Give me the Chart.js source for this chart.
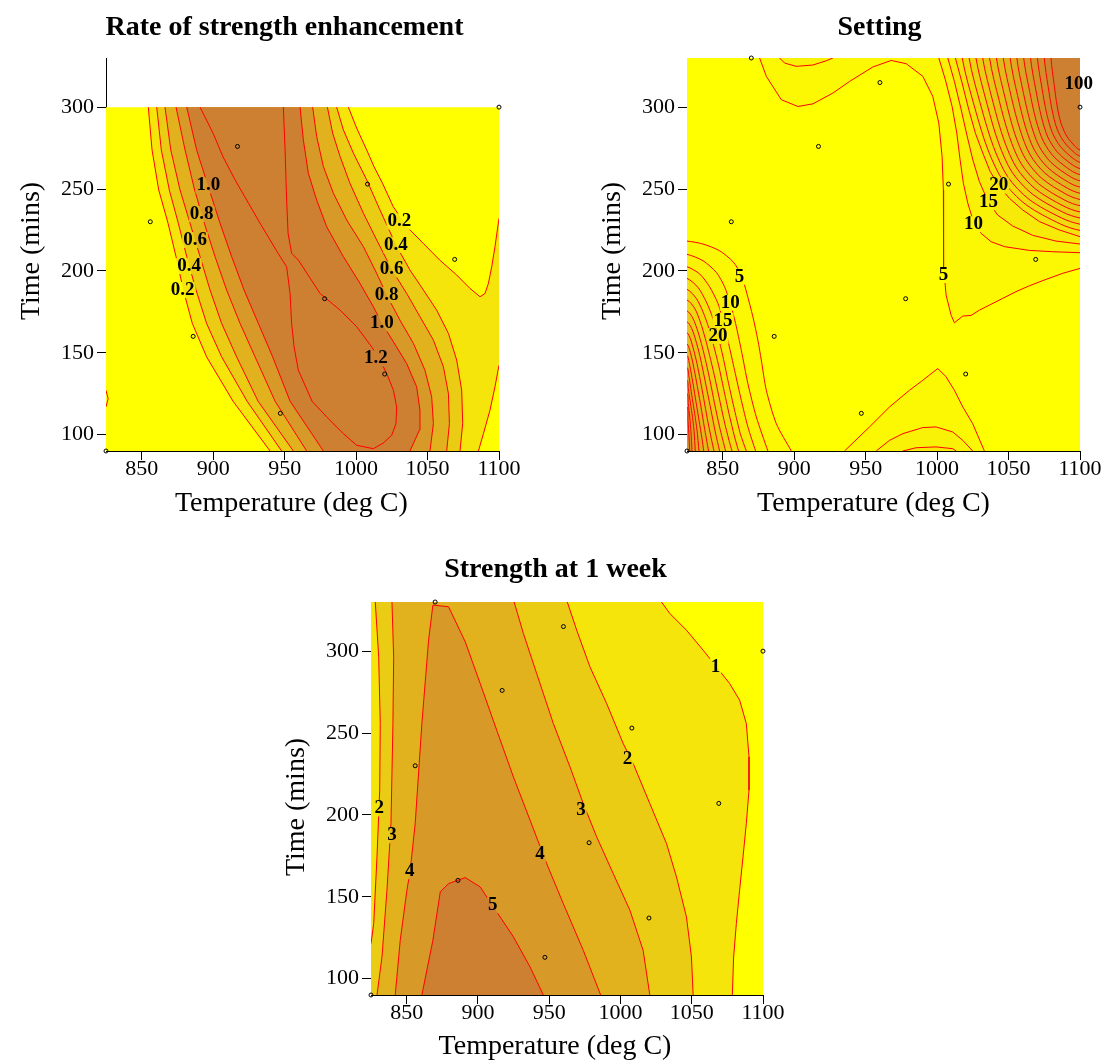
<!DOCTYPE html>
<html><head><meta charset="utf-8">
<script src="https://cdn.jsdelivr.net/npm/chart.js@4.4.1/dist/chart.umd.min.js"></script>
<style>
html,body{margin:0;padding:0;background:#fff;width:1111px;height:1061px;overflow:hidden;position:relative}
canvas{position:absolute;display:block}
</style></head><body>
<canvas id="c1" width="560" height="530" style="left:0;top:0"></canvas>
<canvas id="c2" width="551" height="530" style="left:560px;top:0"></canvas>
<canvas id="c3" width="600" height="531" style="left:250px;top:530px"></canvas>
<script>
// ---------- axes ----------
const xTicks = [850, 900, 950, 1000, 1050, 1100];
const yTicks = [100, 150, 200, 250, 300];

// ---------- design points (temperature, time) ----------
const designTemp = [825, 870, 960, 917, 856, 886, 947, 978, 1008, 1069, 1020, 1100];
const designTime = [90, 330, 315, 276, 230, 160, 113, 183, 253, 207, 137, 300];

// ---------- panel 1: Rate of strength enhancement (levels 0.2 .. 1.2) ----------
const p1_L02 = [[854.6,300],[857.2,273.9],[861.9,249.4],[868.4,229.1],[874.0,208.7],[879.1,188.3],[885.4,167.9],[895.4,147.5],[913.9,120.4],[939.8,90]];
const p1_L04 = [[860.5,300],[863.7,273.9],[869.3,249.4],[875.6,229.1],[881.5,208.7],[888.0,188.3],[895.4,167.9],[905.9,147.5],[923.7,120.4],[947.9,90]];
const p1_L06 = [[866.3,300],[870.3,273.9],[876.8,249.4],[883.8,229.1],[890.8,208.7],[897.8,188.3],[905.9,167.9],[916.4,147.5],[931.4,120.4],[956.1,90]];
const p1_L08 = [[874.0,300],[880.3,273.9],[887.0,249.4],[893.8,229.1],[901.3,208.7],[909.4,188.3],[918.8,167.9],[929.3,147.5],[943.3,120.4],[965.4,90]];
const p1_L10 = [[881.5,300],[888.4,273.9],[897.3,249.4],[904.8,229.1],[912.9,208.7],[921.6,188.3],[931.6,167.9],[941.6,147.5],[953.8,120.4],[977.1,90]];
const p1_R10 = [[960.8,300],[963.1,280],[966.6,259.6],[972.4,243.3],[979.4,227],[991.1,208.7],[1002.7,192.4],[1012.1,178.1],[1018.1,167.9],[1026.1,156.7],[1035.4,143.4],[1042.4,129.2],[1044.7,114.9],[1044.3,102.7],[1037.7,90]];
const p1_R08 = [[969.6,300],[972.4,282.1],[977.1,263.7],[984.1,247.4],[993.4,231.1],[1005.1,214.8],[1014.4,198.5],[1021.4,185.2],[1030.7,169.9],[1040.1,155.7],[1048.2,139.3],[1052.9,123.0],[1054.1,106.7],[1051.7,90]];
const p1_R06 = [[979.9,300],[983.6,284.1],[988.8,269.8],[995.7,253.5],[1005.1,235.2],[1014.4,218.9],[1024.9,200.9],[1035.4,186.2],[1044.7,172.0],[1054.1,157.7],[1061.1,141.4],[1064.6,125.1],[1065.3,106.7],[1063.4,90]];
const p1_R04 = [[986.4,300],[991.1,286.1],[998.1,271.9],[1007.4,255.6],[1016.7,237.2],[1027.9,215.8],[1037.7,200.5],[1047.1,188.3],[1056.4,176.0],[1064.6,161.8],[1070.4,145.5],[1073.9,127.1],[1074.6,106.7],[1072.7,90]];
const p1_R02a = [[994.6,300],[1000.4,287.2],[1007.4,273.9],[1012.5,263.7],[1018.5,253.5],[1026.0,239.2],[1035.5,227.0],[1047.0,216.8],[1058.5,206.6],[1070.4,197.5],[1079.7,189.3],[1086.7,184.2],[1090.2,186.2],[1092.6,192.4],[1094.9,202.5],[1097.2,214.8],[1100,232.1]];
const p1_R02b = [[1100,142.4],[1097.2,129.2],[1093.7,114.9],[1089.1,100.6],[1085.6,90]];
const p1_L12 = [[890.8,300],[899.9,284.1],[906.9,269.6],[915.3,255.6],[923.4,243.3],[932.8,229.1],[939.8,218.9],[945.4,210.7],[951.4,202.5],[953.8,186.2],[954.9,167.9],[956.6,153.6],[959.6,139.3],[969.2,120.4],[979.4,110.8],[991.1,100.6],[1000.4,93.5],[1012.1,91.4],[1019.1,94.9],[1024.9,99.6],[1027.9,106.7],[1028.4,116.9],[1026.1,127.1],[1021.4,137.3],[1016.7,145.5],[1010.9,153.6],[1000.4,165.9],[988.8,176.0],[974.8,186.2],[959.6,206.6],[954.9,210.7],[952.4,222.9],[951.4,243.3],[950.3,273.9],[949.1,300]];
const p1_stub = [[825,127],[826.5,122],[825,117]];
const p1Labels = [['1.0',896.6,252.1],['0.8',892.0,234.8],['0.6',887.3,218.9],['0.4',883.1,203.0],['0.2',878.7,188.3],
  ['0.2',1030.3,230.1],['0.4',1027.9,215.8],['0.6',1024.9,200.9],['0.8',1021.4,185.2],['1.0',1018.1,167.9],['1.2',1013.9,146.5]];

// ---------- panel 2: Setting (levels every 5) ----------
const p2_A5 = [[875.8,330],[880.5,318.8],[891.0,304.5],[902.6,300.4],[913.1,302.0],[927.1,308.6],[938.8,315.7],[955.0,324.5],[967.9,328.5],[978.4,326.5],[990.0,318.8],[997.0,306.5],[1001.2,290.2],[1003.5,269.8],[1004.4,249.4],[1004.7,227.0],[1004.4,202.5],[1006.3,185.2],[1009.8,173.0],[1012.1,168.3],[1018.0,172.4],[1023.8,172.8],[1029.6,176.0],[1036.6,179.1],[1045.9,183.2],[1055.2,187.3],[1064.6,190.9],[1076.2,194.8],[1087.9,198.5],[1100,201.5]];
const p2_B10 = [[889.8,330],[893.3,326.9],[901.4,324.9],[913.1,325.7],[922.4,328.3],[927.1,330]];
const p2_BM5 = [[935.2,90],[952.7,104.7],[966.7,116.9],[980.7,127.1],[990.0,133.2],[1000.5,140.4],[1006.3,135.3],[1012.1,127.1],[1018.0,116.9],[1024.9,106.7],[1033.1,90]];
const p2_BM10 = [[957.4,90],[966.7,96.5],[976.0,100.6],[990.0,104.3],[999.3,104.7],[1011.0,101.6],[1018.0,96.5],[1024.9,90]];
const p2_BM15 = [[976.0,90],[985.3,92.0],[999.3,92.5],[1011.0,91.4],[1013.3,90]];
const p2FanLevels = [10,15,20,25,30,35,40,45,50,55,60,65,70,75,80,85,90];
const p2Fan = [
  [[1001.2,330],[1005.8,316.7],[1010.5,300.4],[1013.8,284.1],[1016.1,267.8],[1018.4,253.5],[1021.5,241.3],[1025.4,230.1],[1030.8,222.9],[1037.8,217.8],[1047.1,214.8],[1064.6,212.5],[1080.9,211.7],[1100,211.1]],
  [[1007.5,330],[1012.1,315.7],[1016.6,299.4],[1020.8,283.1],[1025.0,267.8],[1029.6,254.5],[1035.9,241.9],[1042.4,234.1],[1052.9,227.4],[1066.9,221.7],[1083.2,218.2],[1100,216.4]],
  [[1012.8,330],[1017.5,314.7],[1022.2,298.4],[1026.8,284.1],[1032.0,271.9],[1037.1,260.7],[1043.1,252.1],[1050.6,244.3],[1059.9,237.2],[1071.6,230.1],[1085.5,225.0],[1100,220.9]],
  [[1017.6,330],[1026.4,299.5],[1035.6,273.9],[1046.3,254.8],[1062.1,240.5],[1086.3,228.6],[1100,224.7]],
  [[1022.4,330],[1030.7,300.6],[1039.4,275.9],[1049.4,257.5],[1064.3,243.7],[1087.1,232.3],[1100,228.5]],
  [[1027.2,330],[1035.0,301.7],[1043.1,277.9],[1052.5,260.2],[1066.5,247.0],[1087.9,235.9],[1100,232.3]],
  [[1031.9,330],[1039.2,302.7],[1046.8,279.9],[1055.6,262.9],[1068.7,250.1],[1088.7,239.5],[1100,236.0]],
  [[1036.7,330],[1043.5,303.8],[1050.6,281.9],[1058.7,265.6],[1070.9,253.3],[1089.5,243.1],[1100,239.8]],
  [[1041.5,330],[1047.8,304.9],[1054.3,283.9],[1061.9,268.3],[1073.1,256.6],[1090.3,246.8],[1100,243.6]],
  [[1046.3,330],[1052.0,306.0],[1058.1,286.0],[1065.0,271.0],[1075.3,259.8],[1091.1,250.5],[1100,247.4]],
  [[1051.1,330],[1056.3,307.1],[1061.8,288.0],[1068.1,273.7],[1077.5,263.0],[1091.9,254.1],[1100,251.2]],
  [[1055.8,330],[1060.5,308.2],[1065.5,290.0],[1071.2,276.4],[1079.7,266.2],[1092.7,257.8],[1100,255.0]],
  [[1060.6,330],[1064.8,309.4],[1069.2,292.1],[1074.3,279.2],[1081.9,269.5],[1093.5,261.4],[1100,258.8]],
  [[1065.4,330],[1069.1,310.4],[1073.0,294.0],[1077.4,281.8],[1084.1,272.6],[1094.3,265.0],[1100,262.5]],
  [[1070.2,330],[1073.4,311.5],[1076.7,296.0],[1080.6,284.5],[1086.3,275.9],[1095.1,268.7],[1100,266.3]],
  [[1075.0,330],[1077.7,312.6],[1080.5,298.1],[1083.7,287.2],[1088.5,279.1],[1095.9,272.3],[1100,270.1]],
  [[1079.7,330],[1081.9,313.7],[1084.1,300.1],[1086.8,289.9],[1090.7,282.3],[1096.6,276.0],[1100,273.9]]
];
const p2CornerLevels = [5,10,15,20,25,30,35,40,45,50,55,60,65,70,75];
const p2Corner = [
  [[825,218.2],[836.2,216.4],[847.8,212.3],[857.2,205.6],[863.0,197.5],[866.9,186.2],[871.1,172.0],[874.6,157.7],[877.0,145.5],[880.5,127.1],[887.5,106.7],[898.0,90]],
  [[825,210.1],[836.2,206.2],[845.5,199.1],[851.3,190.3],[855.3,180.1],[859.0,167.9],[863.0,151.6],[867.6,131.2],[873.5,110.8],[881.6,90]],
  [[825,202.5],[833.9,198.1],[840.8,190.3],[846.7,180.1],[850.2,169.5],[854.1,155.7],[858.3,139.3],[863.0,121.0],[867.6,104.7],[873.0,90]],
  [[825,195.4],[832.7,189.9],[838.5,181.1],[843.2,170.9],[846.7,160.3],[850.2,147.5],[854.1,131.2],[858.3,114.9],[862.3,100.6],[866.5,90]],
  [[825,188.7],[831.5,183.2],[836.2,175.0],[840.4,164.8],[843.6,154.6],[847.1,142.4],[850.6,128.1],[854.4,112.8],[858.3,98.6],[861.1,90]],
  [[825,182.2],[830.4,177.1],[834.3,168.9],[837.8,158.7],[840.8,148.5],[844.1,136.3],[847.4,123.0],[850.9,108.8],[854.4,96.5],[856.5,90]],
  [[825,175.6],[829.2,170.9],[832.7,162.8],[835.7,153.6],[838.5,143.4],[841.3,132.2],[844.3,118.9],[847.8,104.7],[852.0,90]],
  [[825,168.9],[828.3,164.8],[831.1,157.7],[833.9,148.5],[836.4,138.3],[839.0,127.1],[841.8,114.9],[844.8,101.6],[847.8,90]],
  [[825,162.2],[827.3,158.7],[829.7,151.6],[832.0,143.4],[834.3,133.2],[836.7,122.0],[839.2,109.8],[842.0,97.6],[843.9,90]],
  [[825,155.3],[826.9,151.6],[828.7,145.5],[830.6,137.3],[832.7,127.1],[834.8,116.9],[837.1,104.7],[840.1,90]],
  [[825,148.3],[826.4,144.4],[827.8,138.3],[829.4,130.2],[831.3,120.0],[833.4,108.8],[835.5,97.6],[836.7,90]],
  [[825,141.0],[826.2,136.3],[827.3,130.2],[828.7,122.0],[830.4,112.8],[832.0,102.7],[833.4,90]],
  [[825,133.2],[825.9,128.1],[827.1,121.0],[828.5,112.8],[829.9,102.7],[830.8,90]],
  [[825,125.1],[825.9,118.9],[826.9,110.8],[827.8,101.6],[828.5,90]],
  [[825,116.9],[825.7,108.8],[826.4,98.6],[826.9,90]]
];
const p2Labels = [['5',861.8,196.4],['10',855.3,180.5],['15',850.2,169.5],['20',846.7,160.3],
  ['5',1004.4,197.5],['10',1025.4,228.4],['15',1035.9,241.9],['20',1043.1,252.1],['100',1099.1,314.1]];

// ---------- panel 3: Strength at 1 week (levels 1..5) ----------
const p3_c1 = [[1028.8,330],[1034.6,323.0],[1046.3,312.8],[1058.0,300.6],[1067.3,290.4],[1076.6,280.2],[1083.6,270.1],[1088.3,255.8],[1090.2,235.4],[1090.2,215.1],[1088.3,194.7],[1086.0,174.4],[1083.6,154.0],[1081.3,133.6],[1079.4,113.2],[1078.5,90]];
const p3_c2r = [[962.7,330],[969.3,312.8],[978.6,290.4],[990.3,268.0],[1001.9,243.6],[1008.9,231.4],[1020.6,206.9],[1032.3,182.5],[1039.3,162.1],[1046.3,137.7],[1049.8,113.2],[1051.0,90]];
const p3_c2l = [[828.0,330],[830.4,296.5],[831.5,255.8],[831.1,215.1],[829.2,174.4],[826.9,133.6],[825,121.4]];
const p3_c3r = [[925.4,330],[931.9,310.8],[941.2,286.4],[952.9,255.8],[964.6,229.3],[973.9,206.9],[983.3,186.6],[994.9,164.2],[1006.6,141.8],[1015.9,117.3],[1020.6,90]];
const p3_c3l = [[839.7,330],[840.9,296.5],[840.4,255.8],[839.0,194.7],[836.2,154.0],[832.7,113.2],[829.2,90]];
const p3_c4 = [[842.0,90],[845.5,123.4],[850.2,154.0],[852.5,166.2],[856.0,194.7],[860.7,255.8],[865.4,306.7],[868.4,328.1],[879.4,327.1],[891.1,305.7],[901.6,280.2],[913.2,251.7],[924.9,223.2],[936.6,196.7],[948.2,170.3],[959.9,145.8],[973.9,117.3],[986.1,90]];
const p3_c5 = [[860.7,90],[868.4,123.4],[873.6,153.0],[879.4,158.0],[891.1,161.7],[901.6,156.0],[910.9,143.8],[924.9,125.5],[936.6,107.1],[945.9,90]];
const p3Labels = [['1',1066.6,290.4],['2',1005.0,233.8],['3',972.3,202.9],['4',943.6,176.0],['5',910.4,144.8],
  ['2',830.8,203.9],['3',839.7,187.6],['4',852.1,165.6]];

// ---------- styling helpers ----------
const RED = '#ff0000';
const SERIF = '"Liberation Serif", "Times New Roman", serif';
const LABEL_FONT = 'bold 19px ' + SERIF;
Chart.defaults.font.family = SERIF;
Chart.defaults.color = '#000';
function ramp(f) { // yellow -> bronze
  return 'rgb(' + Math.round(255 - 50 * f) + ',' + Math.round(255 - 128 * f) + ',' + Math.round(50 * f) + ')';
}
const xy = a => a.map(p => ({x: p[0], y: p[1]}));
const rev = a => a.slice().reverse();
const last = a => a[a.length - 1];
// boundary helpers: points just outside the plotted ranges (clipped away)
const OUT = {l: 815, r: 1110, b: 80, t: 345};
const below = p => [p[0], OUT.b], above = p => [p[0], OUT.t], leftOf = p => [OUT.l, p[1]], rightOf = p => [OUT.r, p[1]];

function region(pts, color, stroke, tension) {
  return {data: xy(pts), showLine: true, fill: 'shape', backgroundColor: color,
    borderColor: stroke ? RED : 'rgba(0,0,0,0)', borderWidth: 1, pointRadius: 0, pointHoverRadius: 0,
    tension: tension || 0, clip: 0};
}
function contour(pts) {
  return {data: xy(pts), showLine: true, fill: false, borderColor: RED, borderWidth: 1,
    pointRadius: 0, pointHoverRadius: 0, tension: 0, clip: 0, order: 1};
}
function design(maxTime) {
  const d = [];
  designTemp.forEach((t, i) => { if (designTime[i] <= maxTime) d.push({x: t, y: designTime[i]}); });
  return {data: d, showLine: false, pointRadius: 2, pointHoverRadius: 2, pointBorderWidth: 1,
    pointBorderColor: '#000', pointBackgroundColor: 'rgba(0,0,0,0)', clip: false, order: 0, noGap: true};
}
function stack(layers) { layers.forEach((d, i) => { d.order = layers.length - i + 2; }); return layers; }

// contour labels: the contour strokes get a gap under each label (as R does)
function labelPlugin(items) {
  let boxes = [];
  return {id: 'contourLabels',
    beforeDatasetsDraw(chart) {
      const {ctx, scales: {x, y}} = chart;
      ctx.save(); ctx.font = LABEL_FONT;
      boxes = items.map(it => {
        const w = ctx.measureText(it[0]).width;
        return [x.getPixelForValue(it[1]) - w / 2 - 1, y.getPixelForValue(it[2]) - 8, w + 2, 16];
      });
      ctx.restore();
    },
    beforeDatasetDraw(chart, args) {
      if (chart.data.datasets[args.index].noGap) return;
      const ctx = chart.ctx;
      ctx.save(); ctx.beginPath(); ctx.rect(0, 0, chart.width, chart.height);
      boxes.forEach(b => ctx.rect(b[0], b[1], b[2], b[3]));
      ctx.clip('evenodd');
    },
    afterDatasetDraw(chart, args) {
      if (chart.data.datasets[args.index].noGap) return;
      chart.ctx.restore();
    },
    afterDatasetsDraw(chart) {
      const {ctx, scales: {x, y}} = chart;
      ctx.save();
      ctx.font = LABEL_FONT; ctx.fillStyle = '#000';
      ctx.textAlign = 'center'; ctx.textBaseline = 'middle';
      items.forEach(it => ctx.fillText(it[0], x.getPixelForValue(it[1]), y.getPixelForValue(it[2])));
      ctx.restore();
    }};
}
function textPlugin(items) {
  return {id: 'panelText', afterDraw(chart) {
    const ctx = chart.ctx;
    items.forEach(it => {
      ctx.save();
      ctx.font = it.font; ctx.fillStyle = '#000'; ctx.textAlign = 'center'; ctx.textBaseline = 'alphabetic';
      ctx.translate(it.x, it.y);
      if (it.rot) ctx.rotate(it.rot * Math.PI / 180);
      ctx.fillText(it.text, 0, 0);
      ctx.restore();
    });
  }};
}
function axisOpts(vals, min, max, fitFn, pad) {
  return {type: 'linear', min, max,
    afterBuildTicks: s => { s.ticks = vals.map(v => ({value: v})); },
    afterFit: fitFn,
    grid: {display: true, drawOnChartArea: false, drawTicks: true, tickLength: 9, color: '#000', tickColor: '#000', tickWidth: 1},
    border: {display: true, color: '#000', width: 1},
    ticks: {color: '#000', font: {family: SERIF, size: 22}, padding: pad, maxRotation: 0, autoSkip: false,
      callback: v => String(v)}};
}
function makeChart(id, datasets, geo, labels, texts) {
  return new Chart(document.getElementById(id), {
    type: 'scatter',
    data: {datasets},
    options: {
      responsive: false, animation: false, devicePixelRatio: 1, events: [],
      layout: {padding: {left: 0, top: geo.top, right: geo.right, bottom: 0}},
      plugins: {legend: {display: false}, tooltip: {enabled: false}, title: {display: false}},
      scales: {
        x: axisOpts(xTicks, 825, 1100, s => { s.height = geo.xh; }, -4),
        y: axisOpts(yTicks, 90, 330, s => { s.width = geo.yw; }, 3)
      }
    },
    plugins: [labelPlugin(labels), textPlugin(texts)]
  });
}
const TITLE_FONT = 'bold 28px ' + SERIF, LAB_FONT = '28px ' + SERIF;

// ---------- panel 1 ----------
const c1 = 5; // colour steps
const p1Layers = stack([
  region([[1110,300],[815,300],[815,80],[1110,80]], ramp(0), false),
  region([...p1_L02, below(last(p1_L02)), below(last(p1_R02b)), ...rev(p1_R02b), rightOf(p1_R02b[0]), rightOf(last(p1_R02a)), ...rev(p1_R02a)], ramp(1 / c1), true),
  region([...p1_L04, below(last(p1_L04)), below(last(p1_R04)), ...rev(p1_R04)], ramp(2 / c1), true),
  region([...p1_L06, below(last(p1_L06)), below(last(p1_R06)), ...rev(p1_R06)], ramp(3 / c1), true),
  region([...p1_L08, below(last(p1_L08)), below(last(p1_R08)), ...rev(p1_R08)], ramp(4 / c1), true),
  region([...p1_L10, below(last(p1_L10)), below(last(p1_R10)), ...rev(p1_R10)], ramp(5 / c1), true)
]);
makeChart('c1', [...p1Layers, contour(p1_L12), contour(p1_stub), design(300)],
  {top: 58, right: 61, xh: 79, yw: 106}, p1Labels,
  [{text: 'Rate of strength enhancement', x: 284.5, y: 35, font: TITLE_FONT},
   {text: 'Temperature (deg C)', x: 291.3, y: 511, font: LAB_FONT},
   {text: 'Time (mins)', x: 39, y: 251, font: LAB_FONT, rot: -90}]);

// ---------- panel 2 ----------
const c2 = 18;
const p2Col = lev => ramp(lev / 5 / c2);
const p2List = [region([[1110,345],[815,345],[815,80],[1110,80]], ramp(0), false)];
for (let lev = 5; lev <= 90; lev += 5) {
  if (lev === 5) p2List.push(region([[OUT.r, OUT.t], above(p2_A5[0]), ...p2_A5, rightOf(last(p2_A5))], p2Col(lev), true));
  if (lev === 10) p2List.push(region([above(last(p2_B10)), above(p2_B10[0]), ...p2_B10], p2Col(lev), true));
  const fi = p2FanLevels.indexOf(lev);
  if (fi >= 0) { const f = p2Fan[fi]; p2List.push(region([[OUT.r, OUT.t], above(f[0]), ...f, rightOf(last(f))], p2Col(lev), true, fi < 3 ? 0 : 0.3)); }
  const ci = p2CornerLevels.indexOf(lev);
  if (ci >= 0) { const c = p2Corner[ci]; p2List.push(region([below(last(c)), [OUT.l, OUT.b], leftOf(c[0]), ...c], p2Col(lev), true, 0.25)); }
  const bm = lev === 5 ? p2_BM5 : lev === 10 ? p2_BM10 : lev === 15 ? p2_BM15 : null;
  if (bm) p2List.push(region([below(last(bm)), below(bm[0]), ...bm], p2Col(lev), true));
}
makeChart('c2', [...stack(p2List), design(330)],
  {top: 58, right: 31, xh: 79, yw: 127}, p2Labels,
  [{text: 'Setting', x: 319.5, y: 35, font: TITLE_FONT},
   {text: 'Temperature (deg C)', x: 313.5, y: 511, font: LAB_FONT},
   {text: 'Time (mins)', x: 60, y: 251, font: LAB_FONT, rot: -90}]);

// ---------- panel 3 ----------
const c3 = 5;
const p3Layers = stack([
  region([[1110,345],[815,345],[815,80],[1110,80]], ramp(0), false),
  region([[OUT.l, OUT.t], above(p3_c1[0]), ...p3_c1, below(last(p3_c1)), [OUT.l, OUT.b]], ramp(1 / c3), true),
  region([above(p3_c2r[0]), above(p3_c2l[0]), ...p3_c2l, leftOf(last(p3_c2l)), [OUT.l, OUT.b], below(last(p3_c2r)), ...rev(p3_c2r)], ramp(2 / c3), true),
  region([above(p3_c3r[0]), above(p3_c3l[0]), ...p3_c3l, below(last(p3_c3l)), below(last(p3_c3r)), ...rev(p3_c3r)], ramp(3 / c3), true),
  region([below(last(p3_c4)), below(p3_c4[0]), ...p3_c4], ramp(4 / c3), true),
  region([below(last(p3_c5)), below(p3_c5[0]), ...p3_c5], ramp(5 / c3), true)
]);
makeChart('c3', [...p3Layers, design(330)],
  {top: 72, right: 87, xh: 66, yw: 121}, p3Labels,
  [{text: 'Strength at 1 week', x: 305.5, y: 47, font: TITLE_FONT},
   {text: 'Temperature (deg C)', x: 305, y: 524, font: LAB_FONT},
   {text: 'Time (mins)', x: 54, y: 277, font: LAB_FONT, rot: -90}]);
</script>
</body></html>
